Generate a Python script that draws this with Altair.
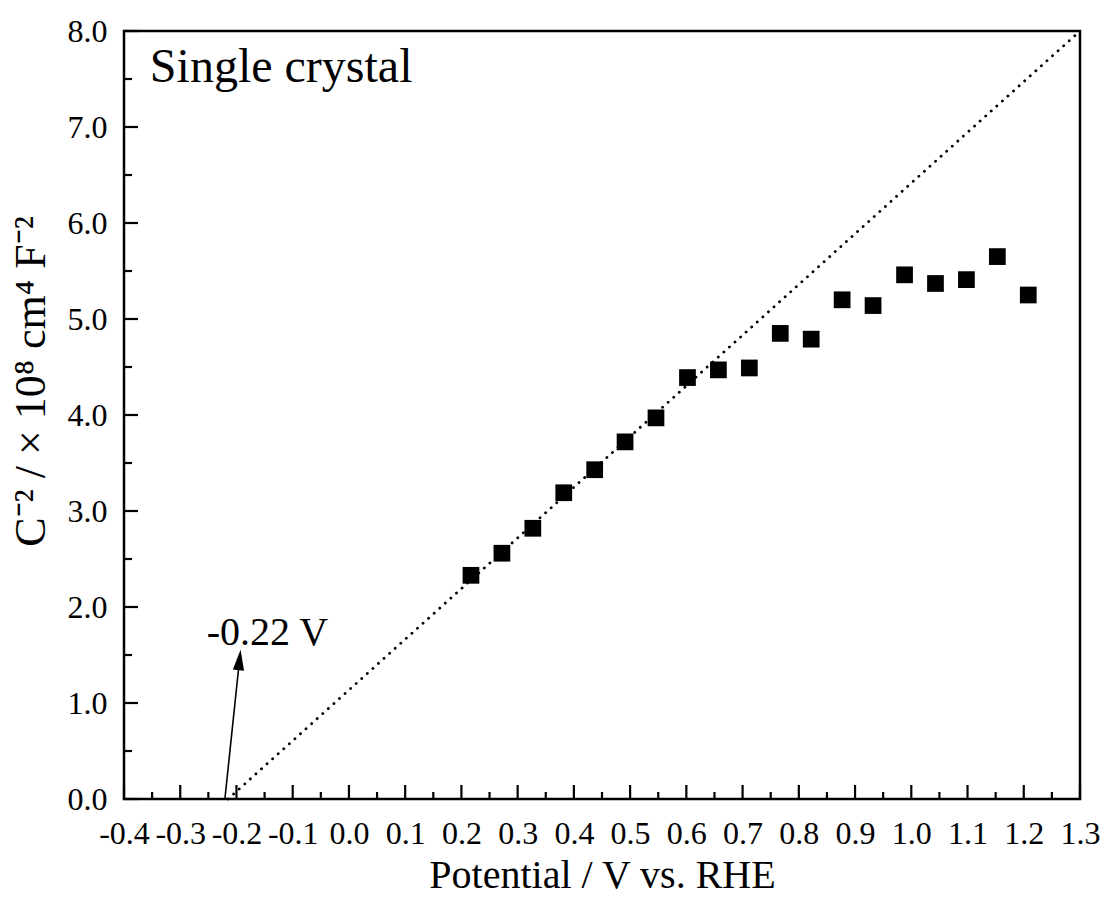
import altair as alt
import pandas as pd

# ---- data ----
potential = [0.217, 0.272, 0.327, 0.382, 0.437, 0.491, 0.546, 0.602, 0.657, 0.712,
             0.767, 0.822, 0.877, 0.932, 0.988, 1.043, 1.098, 1.153, 1.208]
c_minus2 = [2.33, 2.56, 2.82, 3.19, 3.43, 3.72, 3.97, 4.39, 4.47, 4.49,
            4.85, 4.79, 5.20, 5.14, 5.46, 5.37, 5.41, 5.65, 5.25]

fit_x = [-0.215, 1.3]
fit_y = [0.0, 8.0]

x_major = [-0.4, -0.3, -0.2, -0.1, 0.0, 0.1, 0.2, 0.3, 0.4, 0.5, 0.6, 0.7, 0.8, 0.9,
           1.0, 1.1, 1.2, 1.3]
x_minor = [-0.35, -0.25, -0.15, -0.05, 0.05, 0.15, 0.25, 0.35, 0.45, 0.55, 0.65, 0.75,
           0.85, 0.95, 1.05, 1.15, 1.25]
y_major = [0, 1, 2, 3, 4, 5, 6, 7, 8]
y_minor = [0.5, 1.5, 2.5, 3.5, 4.5, 5.5, 6.5, 7.5]

arrow_start = (-0.2206, 0.0)
arrow_end = (-0.1965, 1.344)
arrow_head = (-0.1946, 1.448)

annot_label = "-0.22 V"
annot_pos = (-0.253, 1.604)
panel_label = "Single crystal"
panel_pos = (-0.354, 7.47)

x_title = "Potential / V vs. RHE"
y_title = "C\u207b\u00b2 / \u00d7 10\u2078 cm\u2074 F\u207b\u00b2"

FONT = "Liberation Serif"
W, H = 956, 768

xscale = alt.Scale(domain=[-0.4, 1.3], nice=False, zero=False)
yscale = alt.Scale(domain=[0, 8], nice=False, zero=False)

x_axis = alt.Axis(
    values=x_major, grid=False, ticks=False, domain=False,
    labelExpr="datum.value < 0 ? '-' + format(-datum.value, '.1f') : format(datum.value, '.1f')",
    labelFont=FONT, labelFontSize=32, labelColor="black", labelOverlap=False,
    labelFlush=False, labelBaseline="top", labelPadding=19,
    title=x_title, titleFont=FONT, titleFontSize=40, titleFontWeight="normal",
    titleColor="black", titleY=88, titleBaseline="alphabetic",
)
y_axis = alt.Axis(
    values=y_major, grid=False, ticks=False, domain=False, format=".1f",
    labelFont=FONT, labelFontSize=32, labelColor="black", labelOverlap=False,
    labelFlush=False, labelPadding=17,
    title=y_title, titleFont=FONT, titleFontSize=44, titleFontWeight="normal",
    titleColor="black", titleX=-80, titleY=350, titleAngle=270,
    titleBaseline="alphabetic", titleAlign="center",
)


def X(field):
    return alt.X(field, type="quantitative", scale=xscale, axis=x_axis)


def Y(field):
    return alt.Y(field, type="quantitative", scale=yscale, axis=y_axis)


pts = pd.DataFrame({"x": potential, "y": c_minus2})
fit = pd.DataFrame({"x": fit_x, "y": fit_y})

scatter = alt.Chart(pts).mark_point(
    shape="square", filled=True, size=280, color="black", opacity=1
).encode(x=X("x"), y=Y("y"))

fit_line = alt.Chart(fit).mark_line(
    color="black", strokeWidth=2.8, strokeDash=[0.1, 7.4], strokeCap="round"
).encode(x=X("x"), y=Y("y"))

# inward ticks
xt_major = alt.Chart(pd.DataFrame({"x": x_major})).mark_rule(
    color="black", strokeWidth=2.2).encode(x=X("x"), y=alt.value(H), y2=alt.value(H - 14))
xt_minor = alt.Chart(pd.DataFrame({"x": x_minor})).mark_rule(
    color="black", strokeWidth=2.2).encode(x=X("x"), y=alt.value(H), y2=alt.value(H - 7))
yt_major = alt.Chart(pd.DataFrame({"y": y_major})).mark_rule(
    color="black", strokeWidth=2.2).encode(y=Y("y"), x=alt.value(0), x2=alt.value(14))
yt_minor = alt.Chart(pd.DataFrame({"y": y_minor})).mark_rule(
    color="black", strokeWidth=2.2).encode(y=Y("y"), x=alt.value(0), x2=alt.value(8))

arrow_df = pd.DataFrame({"x": [arrow_start[0]], "y": [arrow_start[1]],
                         "x2": [arrow_end[0]], "y2": [arrow_end[1]]})
shaft = alt.Chart(arrow_df).mark_rule(color="black", strokeWidth=1.6).encode(
    x=X("x"), y=Y("y"), x2="x2:Q", y2="y2:Q")
head = alt.Chart(pd.DataFrame({"x": [arrow_head[0]], "y": [arrow_head[1]]})).mark_point(
    shape="M0,-1L0.55,1L-0.55,1Z", filled=True, size=420, angle=6, color="black", opacity=1
).encode(x=X("x"), y=Y("y"))

annot = alt.Chart(pd.DataFrame({"x": [annot_pos[0]], "y": [annot_pos[1]], "t": [annot_label]})).mark_text(
    font=FONT, fontSize=40, align="left", baseline="alphabetic", color="black"
).encode(x=X("x"), y=Y("y"), text="t:N")
panel = alt.Chart(pd.DataFrame({"x": [panel_pos[0]], "y": [panel_pos[1]], "t": [panel_label]})).mark_text(
    font=FONT, fontSize=48, align="left", baseline="alphabetic", color="black"
).encode(x=X("x"), y=Y("y"), text="t:N")

chart = alt.layer(
    fit_line, xt_major, xt_minor, yt_major, yt_minor, shaft, head, scatter, annot, panel
).properties(
    width=W, height=H,
    autosize=alt.AutoSizeParams(type="none"),
    padding={"left": 124, "top": 31, "right": 27, "bottom": 108},
    background="white",
).configure_view(stroke="black", strokeWidth=2.5)

chart.save("out.html", embed_options={"renderer": "svg", "actions": False})
